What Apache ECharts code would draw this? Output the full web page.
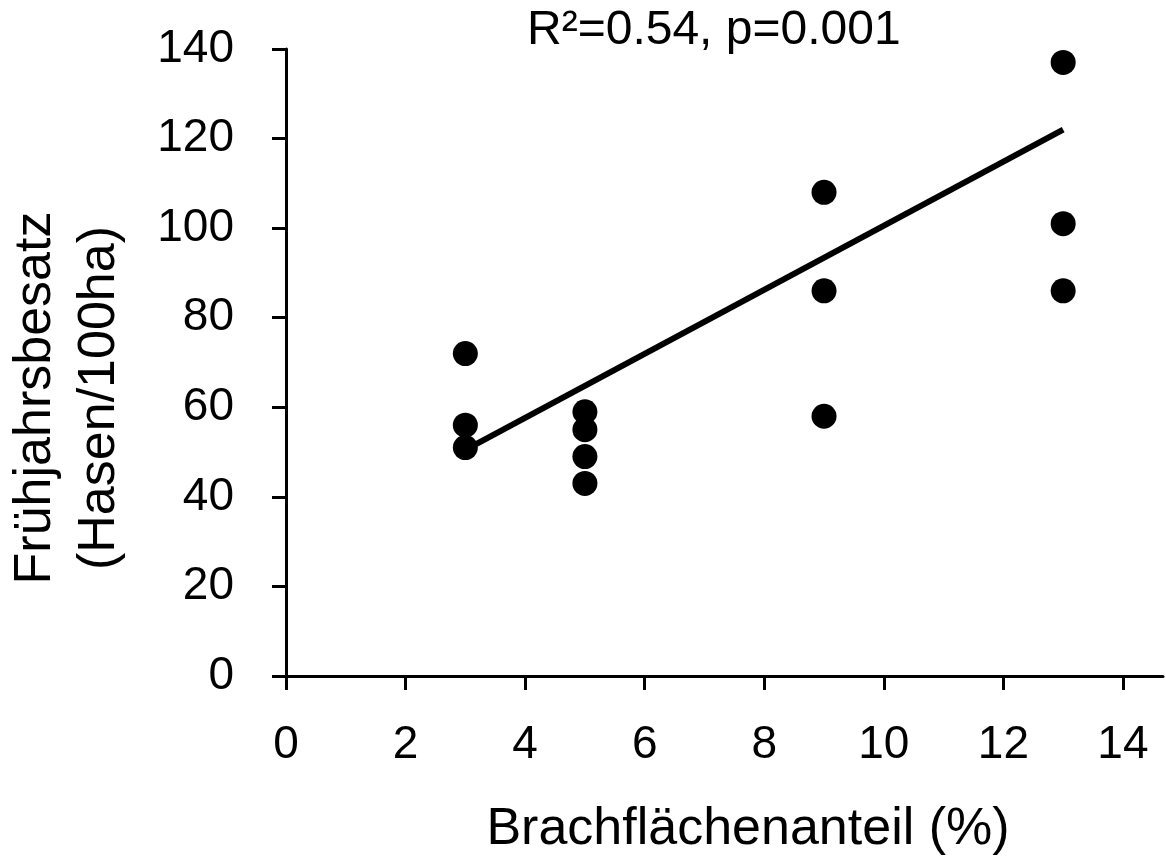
<!DOCTYPE html>
<html>
<head>
<meta charset="utf-8">
<script src="https://cdn.jsdelivr.net/npm/echarts@6/dist/echarts.min.js"></script>
<style>
  html, body { margin: 0; padding: 0; background: #fff; }
  #chart { width: 1166px; height: 863px; }
</style>
</head>
<body>
<div id="chart"></div>
<script>
// Brachflächenanteil (%) vs. Frühjahrsbesatz (Hasen/100ha)
const fallowShare   = [3, 3, 3, 5, 5, 5, 5, 9, 9, 9, 13, 13, 13];
const springDensity = [72, 56, 51, 59, 55, 49, 43, 108, 86, 58, 137, 101, 86];
// regression line end points
const trendX = [3, 13];
const trendY = [50.5, 122];
const xTicks = [0, 2, 4, 6, 8, 10, 12, 14];
const statText = 'R²=0.54, p=0.001';
const xTitle = 'Brachflächenanteil (%)';
const yTitle = ['Frühjahrsbesatz', '(Hasen/100ha)'];

const font = 'Liberation Sans, Arial, sans-serif';
const chart = echarts.init(document.getElementById('chart'));

const axisCommon = {
  splitLine: { show: false },
  axisLine: { show: true, lineStyle: { color: '#000', width: 3 } },
  axisTick: { show: true, length: 14, lineStyle: { color: '#000', width: 3 } },
  axisLabel: { color: '#000', fontSize: 46, fontFamily: font, margin: 44 }
};

const option = {
  animation: false,
  backgroundColor: '#fff',
  title: {
    text: statText,
    left: 522,
    top: 2,
    textStyle: { color: '#000', fontSize: 48, fontWeight: 'normal', fontFamily: font }
  },
  grid: { left: 286, right: 3, top: 49, bottom: 187 },
  xAxis: Object.assign({}, axisCommon, {
    type: 'value',
    min: 0,
    max: 14.67,
    interval: 2,
    offset: 2,
    axisTick: Object.assign({}, axisCommon.axisTick, { customValues: xTicks }),
    axisLabel: Object.assign({}, axisCommon.axisLabel, { customValues: xTicks })
  }),
  yAxis: Object.assign({}, axisCommon, {
    type: 'value',
    min: 0,
    max: 140,
    interval: 20,
    offset: 11,
    axisLabel: Object.assign({}, axisCommon.axisLabel, { margin: 41 })
  }),
  graphic: [
    {
      type: 'text',
      x: 748,
      y: 830,
      style: {
        text: xTitle,
        fill: '#000',
        font: '52px ' + font,
        align: 'center',
        verticalAlign: 'middle'
      }
    },
    {
      type: 'text',
      x: 68,
      y: 398,
      rotation: Math.PI / 2,
      style: {
        text: yTitle.join('\n'),
        fill: '#000',
        font: '52px ' + font,
        lineHeight: 64,
        align: 'center',
        verticalAlign: 'middle'
      }
    }
  ],
  series: [
    {
      type: 'scatter',
      data: fallowShare.map((x, i) => [x, springDensity[i]]),
      symbolSize: 25,
      itemStyle: { color: '#000', opacity: 1 }
    },
    {
      type: 'line',
      data: trendX.map((x, i) => [x, trendY[i]]),
      showSymbol: false,
      lineStyle: { color: '#000', width: 6 }
    }
  ]
};

chart.setOption(option);
window.onresize = chart.resize;
</script>
</body>
</html>
